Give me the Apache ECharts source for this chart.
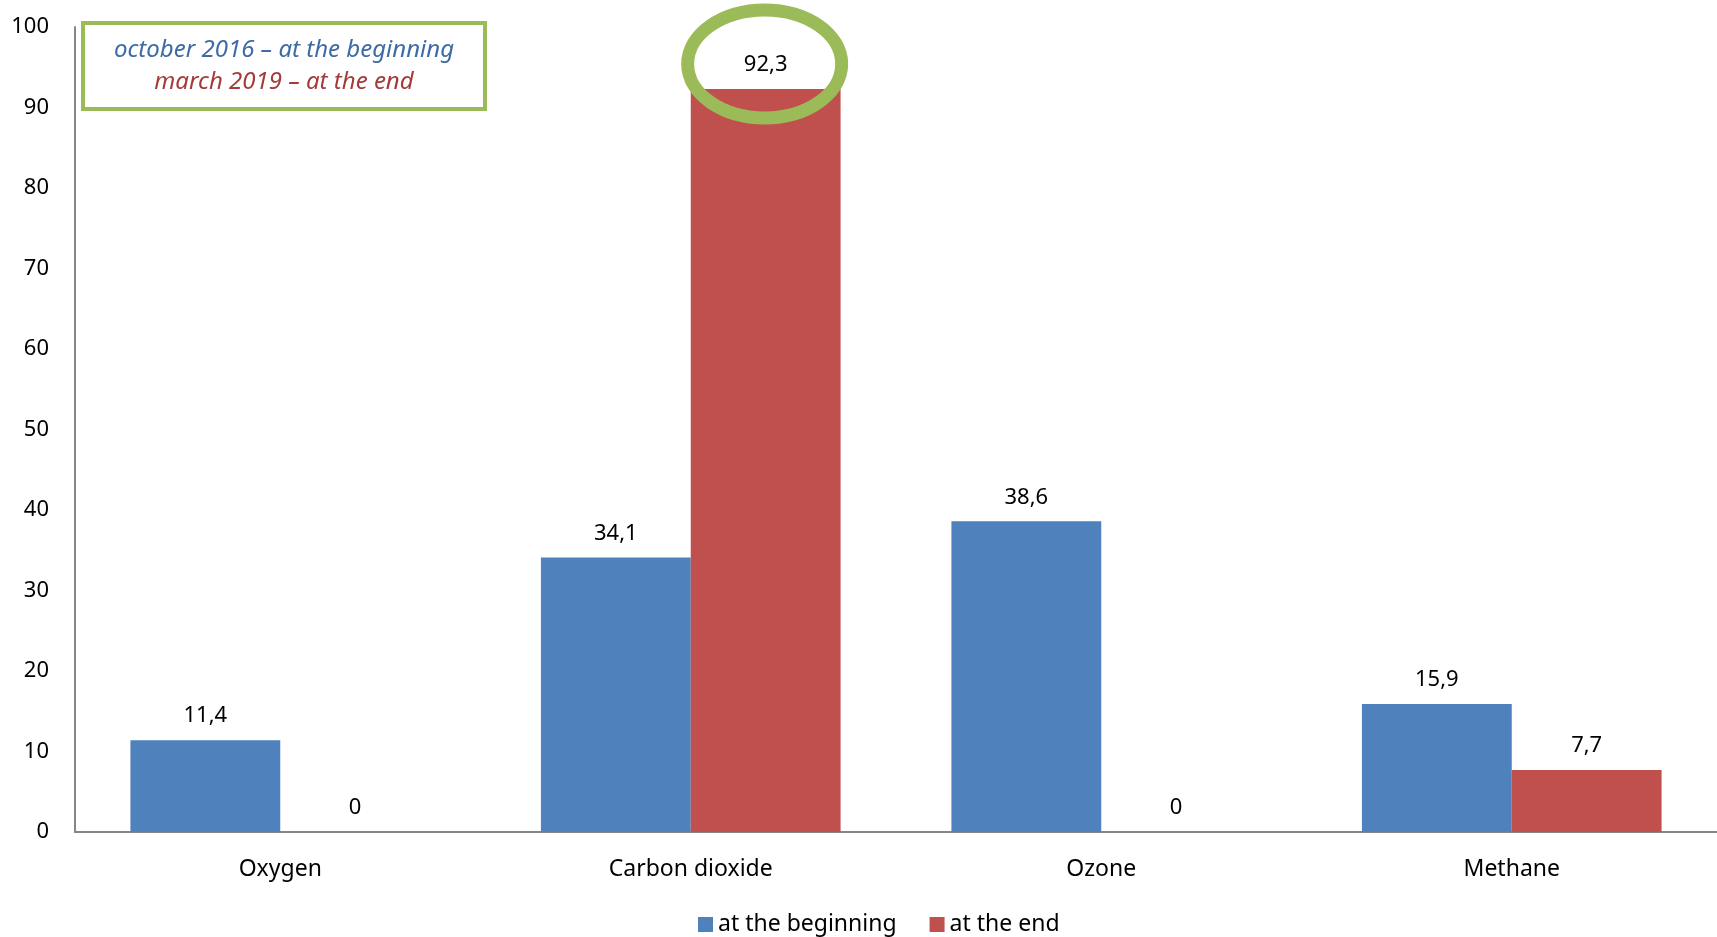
<!DOCTYPE html>
<html>
<head>
<meta charset="utf-8">
<script src="https://cdn.jsdelivr.net/npm/echarts@6/dist/echarts.min.js"></script>
<style>html,body{margin:0;padding:0;background:#fff;}#c{width:1717px;height:937px;}</style>
</head>
<body>
<div id="c"></div>
<script>
const categories = ['Oxygen', 'Carbon dioxide', 'Ozone', 'Methane'];
const beginningValues = [11.4, 34.1, 38.6, 15.9];
const endValues = [0, 92.3, 0, 7.7];
const seriesNames = ['at the beginning', 'at the end'];
const noteLines = ['october 2016 – at the beginning', 'march 2019 – at the end'];
const highlightIndex = 1;

const FONT = 'Noto Sans';
const chart = echarts.init(document.getElementById('c'), null, {renderer: 'canvas'});
const fmt = p => String(p.value).replace('.', ',');
const labelCfg = {show: true, position: 'top', distance: 13, formatter: fmt, color: '#000', fontSize: 22, fontFamily: FONT};

chart.setOption({
  animation: false,
  grid: {left: 75, right: 0, top: 27, bottom: 105, containLabel: false},
  legend: {
    top: 908, left: 693, itemWidth: 15, itemHeight: 15, itemGap: 33,
    icon: 'rect',
    textStyle: {fontSize: 23, fontFamily: FONT, color: '#000'},
    data: seriesNames
  },
  xAxis: {
    type: 'category', data: categories,
    axisLine: {lineStyle: {color: '#868686', width: 2}},
    axisTick: {show: false},
    axisLabel: {fontSize: 23, fontFamily: FONT, color: '#000', margin: 26}
  },
  yAxis: {
    type: 'value', min: 0, max: 100, interval: 10,
    axisLine: {show: true, lineStyle: {color: '#868686', width: 2}},
    axisTick: {show: false},
    splitLine: {show: false},
    axisLabel: {fontSize: 22, fontFamily: FONT, color: '#000', margin: 26}
  },
  series: [
    {name: seriesNames[0], type: 'bar', data: beginningValues, barGap: '0%', barCategoryGap: '27%',
     itemStyle: {color: '#4F81BD'}, label: labelCfg},
    {name: seriesNames[1], type: 'bar', data: endValues,
     itemStyle: {color: '#C0504D'}, label: labelCfg}
  ]
});

// place ellipse around highlighted label
const barTop = chart.convertToPixel({seriesIndex: 1}, [highlightIndex, endValues[highlightIndex]]);
const catCenter = chart.convertToPixel({xAxisIndex: 0}, categories[highlightIndex]);
const bandW = chart.getModel().getComponent('xAxis', 0).axis.getBandWidth();
const barCx = catCenter + bandW * 0.73 / 4;
chart.setOption({
  graphic: [
    {type: 'ellipse', shape: {cx: barCx - 1, cy: barTop[1] - 25, rx: 77, ry: 54},
     style: {fill: null, stroke: '#9BBB59', lineWidth: 13}, z: 100},
    {type: 'group', left: 81, top: 21, children: [
      {type: 'rect', shape: {x: 0, y: 0, width: 402, height: 86},
       style: {fill: '#fff', stroke: '#9BBB59', lineWidth: 4}},
      {type: 'text', x: 201, y: 27, style: {text: noteLines[0], fill: '#3E6BA5', font: 'italic 24px "Noto Sans"', textAlign: 'center', textVerticalAlign: 'middle'}},
      {type: 'text', x: 201, y: 59, style: {text: noteLines[1], fill: '#A33B3B', font: 'italic 24px "Noto Sans"', textAlign: 'center', textVerticalAlign: 'middle'}}
    ], z: 100}
  ]
});
</script>
</body>
</html>
